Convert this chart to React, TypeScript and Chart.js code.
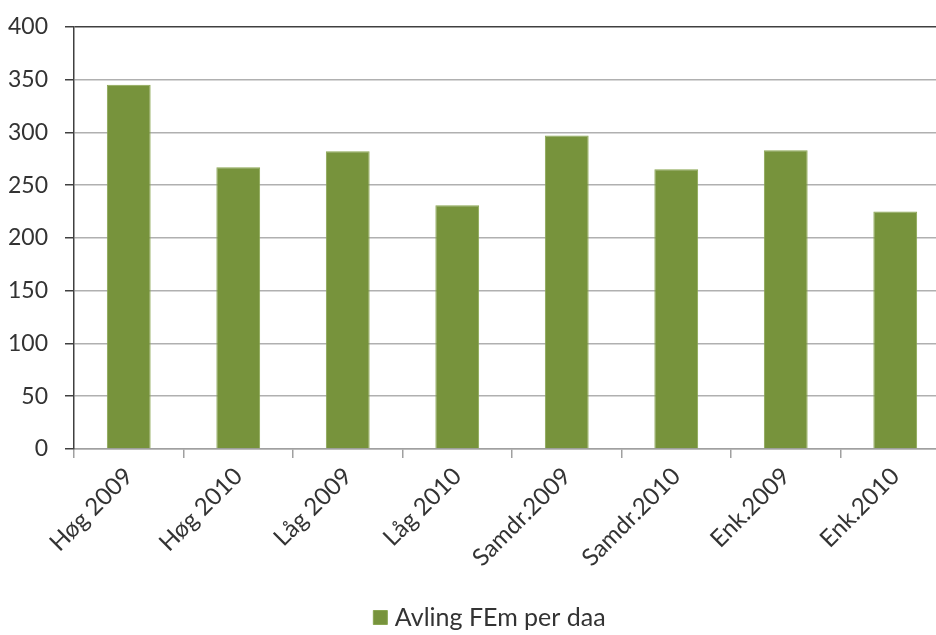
import React, { useEffect, useRef } from "react";
import { Chart, registerables } from "chart.js";

Chart.register(...registerables);

const categories = ["Høg 2009", "Høg 2010", "Låg 2009", "Låg 2010", "Samdr.2009", "Samdr.2010", "Enk.2009", "Enk.2010"];
const values = [345, 267, 282, 231, 297, 265, 283, 225];
const seriesName = "Avling FEm per daa";
const yMin = 0;
const yMax = 400;
const yStep = 50;

const FONT = "Lato";
const TEXT = "#333333";
const BAR = "#77933C";

const legendShift = {
  id: "legendShift",
  afterLayout(chart: any) {
    if (chart.legend) {
      chart.legend.left += 17;
      chart.legend.right += 17;
    }
  },
};

export default function App() {
  const ref = useRef<HTMLCanvasElement | null>(null);
  useEffect(() => {
    if (!ref.current) return;
    const chart = new Chart(ref.current, {
      type: "bar",
      data: {
        labels: categories,
        datasets: [
          {
            label: seriesName,
            data: values,
            backgroundColor: BAR,
            borderColor: "#8aa652",
            borderWidth: 1,
            categoryPercentage: 1,
            barPercentage: 0.4,
          },
        ],
      },
      plugins: [legendShift],
      options: {
        responsive: false,
        animation: false,
        layout: { padding: { top: 23, left: 0, right: 0, bottom: 0 } },
        plugins: {
          tooltip: { enabled: false },
          legend: {
            position: "bottom",
            labels: {
              color: TEXT,
              font: { family: FONT, size: 25 },
              usePointStyle: true,
              pointStyle: "rect",
              boxWidth: 4,
              boxHeight: 14,
              padding: 8,
            },
          },
        },
        scales: {
          x: {
            afterFit: (s: any) => {
              s.height = 148;
            },
            grid: {
              drawOnChartArea: false,
              drawTicks: true,
              tickLength: 9,
              color: "#a0a0a0",
              lineWidth: 1.5,
            },
            border: { color: "#a0a0a0", width: 1.5 },
            ticks: {
              color: TEXT,
              font: { family: FONT, size: 24 },
              maxRotation: 45,
              minRotation: 45,
              padding: 4,
            },
          },
          y: {
            min: yMin,
            max: yMax,
            afterFit: (s: any) => {
              s.width = 74;
            },
            grid: {
              color: (ctx: any) => (ctx.tick && ctx.tick.value === yMax ? "#404040" : "#b0b0b0"),
              lineWidth: 1.5,
              tickLength: 9,
              tickColor: "#404040",
            },
            border: { color: "#404040", width: 1.5 },
            ticks: {
              stepSize: yStep,
              color: TEXT,
              font: { family: FONT, size: 23 },
              padding: 17,
            },
          },
        },
      },
    });
    return () => chart.destroy();
  }, []);
  return (
    <div style={{ position: "absolute", left: 0, top: 0, width: 936, height: 635, overflow: "hidden", background: "#fff" }}>
      <canvas ref={ref} width={950} height={644} style={{ display: "block", position: "absolute", left: 0, top: -4 }} />
    </div>
  );
}
